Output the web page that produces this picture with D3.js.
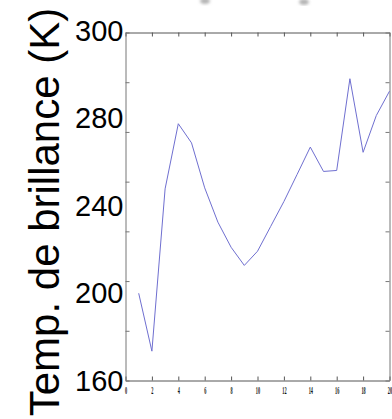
<!DOCTYPE html>
<html>
<head>
<meta charset="utf-8">
<script src="https://cdn.jsdelivr.net/npm/d3@7"></script>
<style>
  html, body { margin: 0; padding: 0; background: #fff; }
  svg { display: block; }
</style>
</head>
<body>
<svg id="chart" width="392" height="419"></svg>
<script>
// Brightness temperature series (K) per sample index
const indices = [1, 2, 3, 4, 5, 6, 7, 8, 9, 10, 11, 12, 13, 14, 15, 16, 17, 18, 19, 20];
const temps = [195.1, 171.8, 237.1, 263.3, 255.6, 237.5, 223.7, 213.6, 206.3, 212.0,
               222.0, 232.0, 242.9, 253.9, 244.1, 244.5, 281.4, 251.8, 266.6, 276.4];
const xTicks = [0, 2, 4, 6, 8, 10, 12, 14, 16, 18, 20];
const yTicks = [160, 180, 200, 220, 240, 260, 280, 300];
const yLabels = ["300", "280", "240", "200", "160"];
const yTitle = "Temp. de brillance (K)";

const svg = d3.select("#chart");
const plotLeft = 125.5, plotRight = 389.5, plotTop = 32.5, plotBottom = 380.5;

const x = d3.scaleLinear().domain([0, 20]).range([plotLeft, plotRight]);
const y = d3.scaleLinear().domain([160, 300]).range([plotBottom, plotTop]);

const frameColor = "#555";

// Faint smudges along the top edge
const defs = svg.append("defs");
defs.append("filter").attr("id", "soft")
  .append("feGaussianBlur").attr("stdDeviation", 1.6);
svg.append("g").attr("filter", "url(#soft)")
  .selectAll("ellipse").data([[205, 1, 5], [304, 2, 5]]).join("ellipse")
  .attr("cx", d => d[0]).attr("cy", d => d[1]).attr("rx", d => d[2]).attr("ry", 3)
  .attr("fill", "#b4b4b4");

// Bottom axis with inward ticks and tiny condensed labels
const gx = svg.append("g").attr("transform", `translate(0,${plotBottom})`)
  .call(d3.axisBottom(x).tickValues(xTicks).tickSizeInner(-4).tickSizeOuter(0).tickPadding(7));
gx.select(".domain").attr("stroke", frameColor);
gx.selectAll(".tick line").attr("stroke", frameColor);
gx.selectAll(".tick text")
  .attr("font-family", "Liberation Serif")
  .attr("font-weight", "bold")
  .attr("font-size", 9.5)
  .attr("fill", "#111")
  .attr("transform", "scale(0.45,1)");

// Top axis: inward ticks only
const gt = svg.append("g").attr("transform", `translate(0,${plotTop})`)
  .call(d3.axisTop(x).tickValues(xTicks).tickSizeInner(-4).tickSizeOuter(0).tickFormat(""));
gt.select(".domain").attr("stroke", frameColor);
gt.selectAll(".tick line").attr("stroke", frameColor);

// Left axis: inward ticks
const gl = svg.append("g").attr("transform", `translate(${plotLeft},0)`)
  .call(d3.axisLeft(y).tickValues(yTicks).tickSizeInner(-4).tickSizeOuter(0).tickFormat(""));
gl.select(".domain").attr("stroke", "#777");
gl.selectAll(".tick line").attr("stroke", "#777");

// Right axis: inward ticks
const gr = svg.append("g").attr("transform", `translate(${plotRight},0)`)
  .call(d3.axisRight(y).tickValues(yTicks).tickSizeInner(-4).tickSizeOuter(0).tickFormat(""));
gr.select(".domain").attr("stroke", "#777");
gr.selectAll(".tick line").attr("stroke", "#777");

// Large value labels spread evenly along the left edge
const labelPos = d3.scalePoint().domain(yLabels).range([plotTop - 2, plotBottom]);
svg.append("g").selectAll("text").data(yLabels).join("text")
  .attr("x", plotLeft - 2)
  .attr("y", d => labelPos(d))
  .attr("dy", "0.36em")
  .attr("text-anchor", "end")
  .attr("font-family", "Liberation Sans, Arial, sans-serif")
  .attr("font-size", 29)
  .attr("fill", "#000")
  .text(d => d);

// Axis title
svg.append("text")
  .attr("transform", "translate(59,212) rotate(-90)")
  .attr("text-anchor", "middle")
  .attr("font-family", "Liberation Sans, Arial, sans-serif")
  .attr("font-size", 42)
  .attr("fill", "#000")
  .text(yTitle);

// Data line
const line = d3.line().x((d, i) => x(indices[i])).y(d => y(d));
svg.append("path")
  .datum(temps)
  .attr("d", line)
  .attr("fill", "none")
  .attr("stroke", "#6f6fd0")
  .attr("stroke-width", 1);
</script>
</body>
</html>
